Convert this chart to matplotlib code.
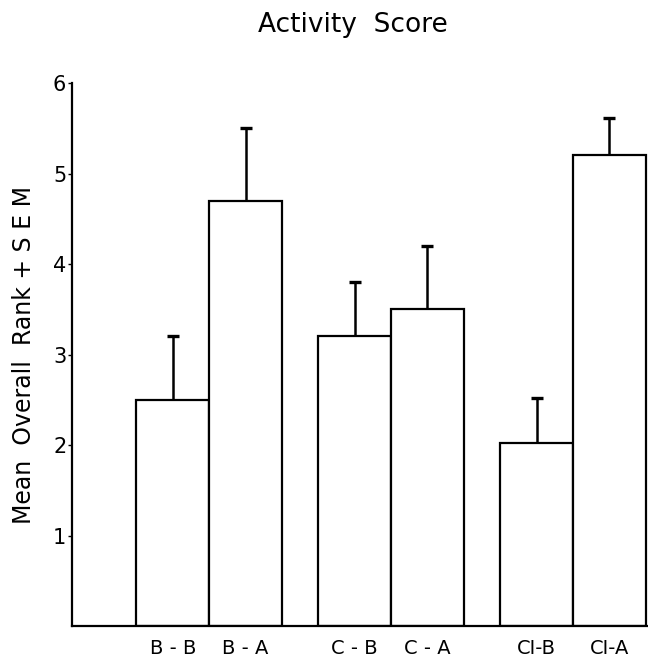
import numpy as np
import matplotlib
matplotlib.use("Agg")
import matplotlib.pyplot as plt

groups = ["B", "C", "CI"]
labels = ["B - B", "B - A", "C - B", "C - A", "CI-B", "CI-A"]
means = [2.5, 4.7, 3.2, 3.5, 2.02, 5.21]
sem = [0.7, 0.8, 0.6, 0.7, 0.5, 0.4]

width = 0.40
centers = np.arange(1, len(groups) + 1)
xpos = np.ravel([[c - width / 2, c + width / 2] for c in centers])

fig = plt.figure(figsize=(6.48, 6.60), dpi=100)
ax = fig.add_axes([0.111, 0.0515, 0.889, 0.8225])

ax.bar(xpos, means, width=width, color="white", edgecolor="black",
       linewidth=1.6, zorder=2)
eb = ax.errorbar(xpos, means, yerr=[np.zeros(len(sem)), sem], fmt="none",
                 ecolor="black", elinewidth=1.8, capsize=4, capthick=2.4,
                 zorder=3)
# only the upper cap, as in the original figure
eb[1][0].set_visible(False)

ax.set_xlim(0.245, 3.413)
ax.set_ylim(0, 6)
ax.set_yticks([1, 2, 3, 4, 5, 6])
ax.set_yticklabels(["1", "2", "3", "4", "5", "6"], fontsize=15)
ax.set_xticks(xpos)
ax.set_xticklabels(labels, fontsize=14)
ax.tick_params(axis="x", length=0, pad=9)
ax.tick_params(axis="y", length=3, width=1, direction="out", pad=1)

for s in ["top", "right"]:
    ax.spines[s].set_visible(False)
for s in ["left", "bottom"]:
    ax.spines[s].set_linewidth(1.6)

ax.set_ylabel("Mean  Overall  Rank + S E M", fontsize=17, labelpad=12)
fig.text(0.545, 0.962, "Activity  Score", ha="center", va="center", fontsize=19)

fig.savefig("out.png", dpi=100)
